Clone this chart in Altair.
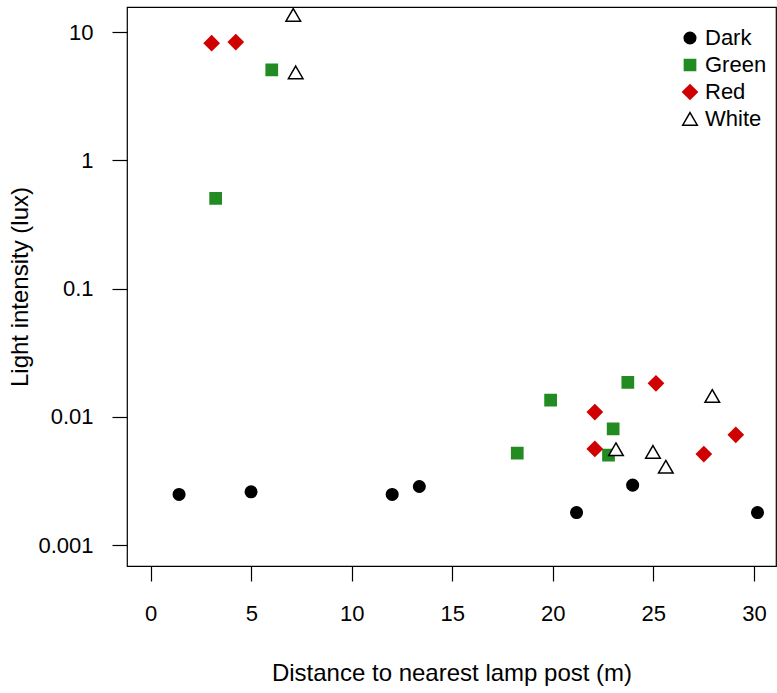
import altair as alt
import pandas as pd

# Light intensity readings by lamp type, against distance to the nearest lamp post
dark_x = [1.41, 4.99, 12.01, 13.36, 21.18, 23.97, 30.18]
dark_y = [0.00248, 0.0026, 0.00248, 0.00286, 0.00179, 0.00293, 0.00179]

green_x = [3.23, 6.02, 18.23, 19.89, 22.77, 23.0, 23.73]
green_y = [0.505, 5.08, 0.00521, 0.01349, 0.00502, 0.00806, 0.01854]

red_x = [3.03, 4.23, 22.09, 22.09, 25.13, 27.51, 29.10]
red_y = [8.2, 8.36, 0.01088, 0.00562, 0.01824, 0.00512, 0.00724]

white_x = [7.09, 7.21, 23.14, 24.98, 25.62, 27.93]
white_y = [13.6, 4.84, 0.00557, 0.00531, 0.00407, 0.0145]

groups = ["Dark", "Green", "Red", "White"]
x_ticks = [0, 5, 10, 15, 20, 25, 30]
y_ticks = [0.001, 0.01, 0.1, 1, 10]

rows = []
for name, xs, ys in [("Dark", dark_x, dark_y), ("Green", green_x, green_y),
                     ("Red", red_x, red_y), ("White", white_x, white_y)]:
    for xv, yv in zip(xs, ys):
        rows.append({"distance": xv, "lux": yv, "type": name})
df = pd.DataFrame(rows)

# Symbol outlines in unit coordinates (scaled by sqrt(size)/2 when drawn)
CIRCLE = "M-0.68,0A0.68,0.68 0 1,0 0.68,0A0.68,0.68 0 1,0 -0.68,0Z"
SQUARE = "M-0.66,-0.66L0.66,-0.66L0.66,0.66L-0.66,0.66Z"
DIAMOND = "M-0.86,0L0,-0.86L0.86,0L0,0.86Z"
TRIANGLE = "M0,-0.76L0.86,0.73L-0.86,0.73Z"
SYMBOL_SIZE = 289

FONT = "Liberation Sans"
legend = alt.Legend(
    title=None, orient="none", legendX=552, legendY=20, padding=0,
    labelFont=FONT, labelFontSize=22, labelColor="black", labelOffset=4,
    rowPadding=5, symbolStrokeWidth=1.5, symbolSize=SYMBOL_SIZE,
)

chart = alt.Chart(df).mark_point(filled=True, strokeWidth=1.5, opacity=1,
                                 size=SYMBOL_SIZE).encode(
    x=alt.X("distance:Q",
            scale=alt.Scale(domain=[-1.18, 31.1], nice=False, zero=False),
            axis=alt.Axis(values=x_ticks, title="Distance to nearest lamp post (m)",
                          labelPadding=22, titleY=114, titleBaseline="alphabetic")),
    y=alt.Y("lux:Q",
            scale=alt.Scale(type="log", domain=[0.000686, 15.7], nice=False),
            axis=alt.Axis(values=y_ticks, format="~g", title="Light intensity (lux)",
                          labelPadding=19, titleX=-100, titleBaseline="alphabetic")),
    shape=alt.Shape("type:N", scale=alt.Scale(domain=groups,
                    range=[CIRCLE, SQUARE, DIAMOND, TRIANGLE]), legend=legend),
    fill=alt.Fill("type:N", scale=alt.Scale(domain=groups,
                  range=["black", "#228B22", "#D00000", "white"]), legend=legend),
    stroke=alt.Stroke("type:N", scale=alt.Scale(domain=groups,
                      range=["black", "#228B22", "#D00000", "black"]), legend=legend),
).properties(
    width=649, height=559,
    autosize=alt.AutoSizeParams(type="none"),
    padding={"left": 127, "top": 7, "right": 1, "bottom": 127},
).configure_view(
    stroke="black", strokeWidth=1.2
).configure_axis(
    domain=False, grid=False, tickColor="black", tickSize=15, tickWidth=1.2,
    labelFont=FONT, labelFontSize=22, labelColor="black",
    titleFont=FONT, titleFontSize=24, titleFontWeight="normal", titleColor="black",
)

chart.save("out.html", embed_options={"renderer": "svg", "actions": False})
